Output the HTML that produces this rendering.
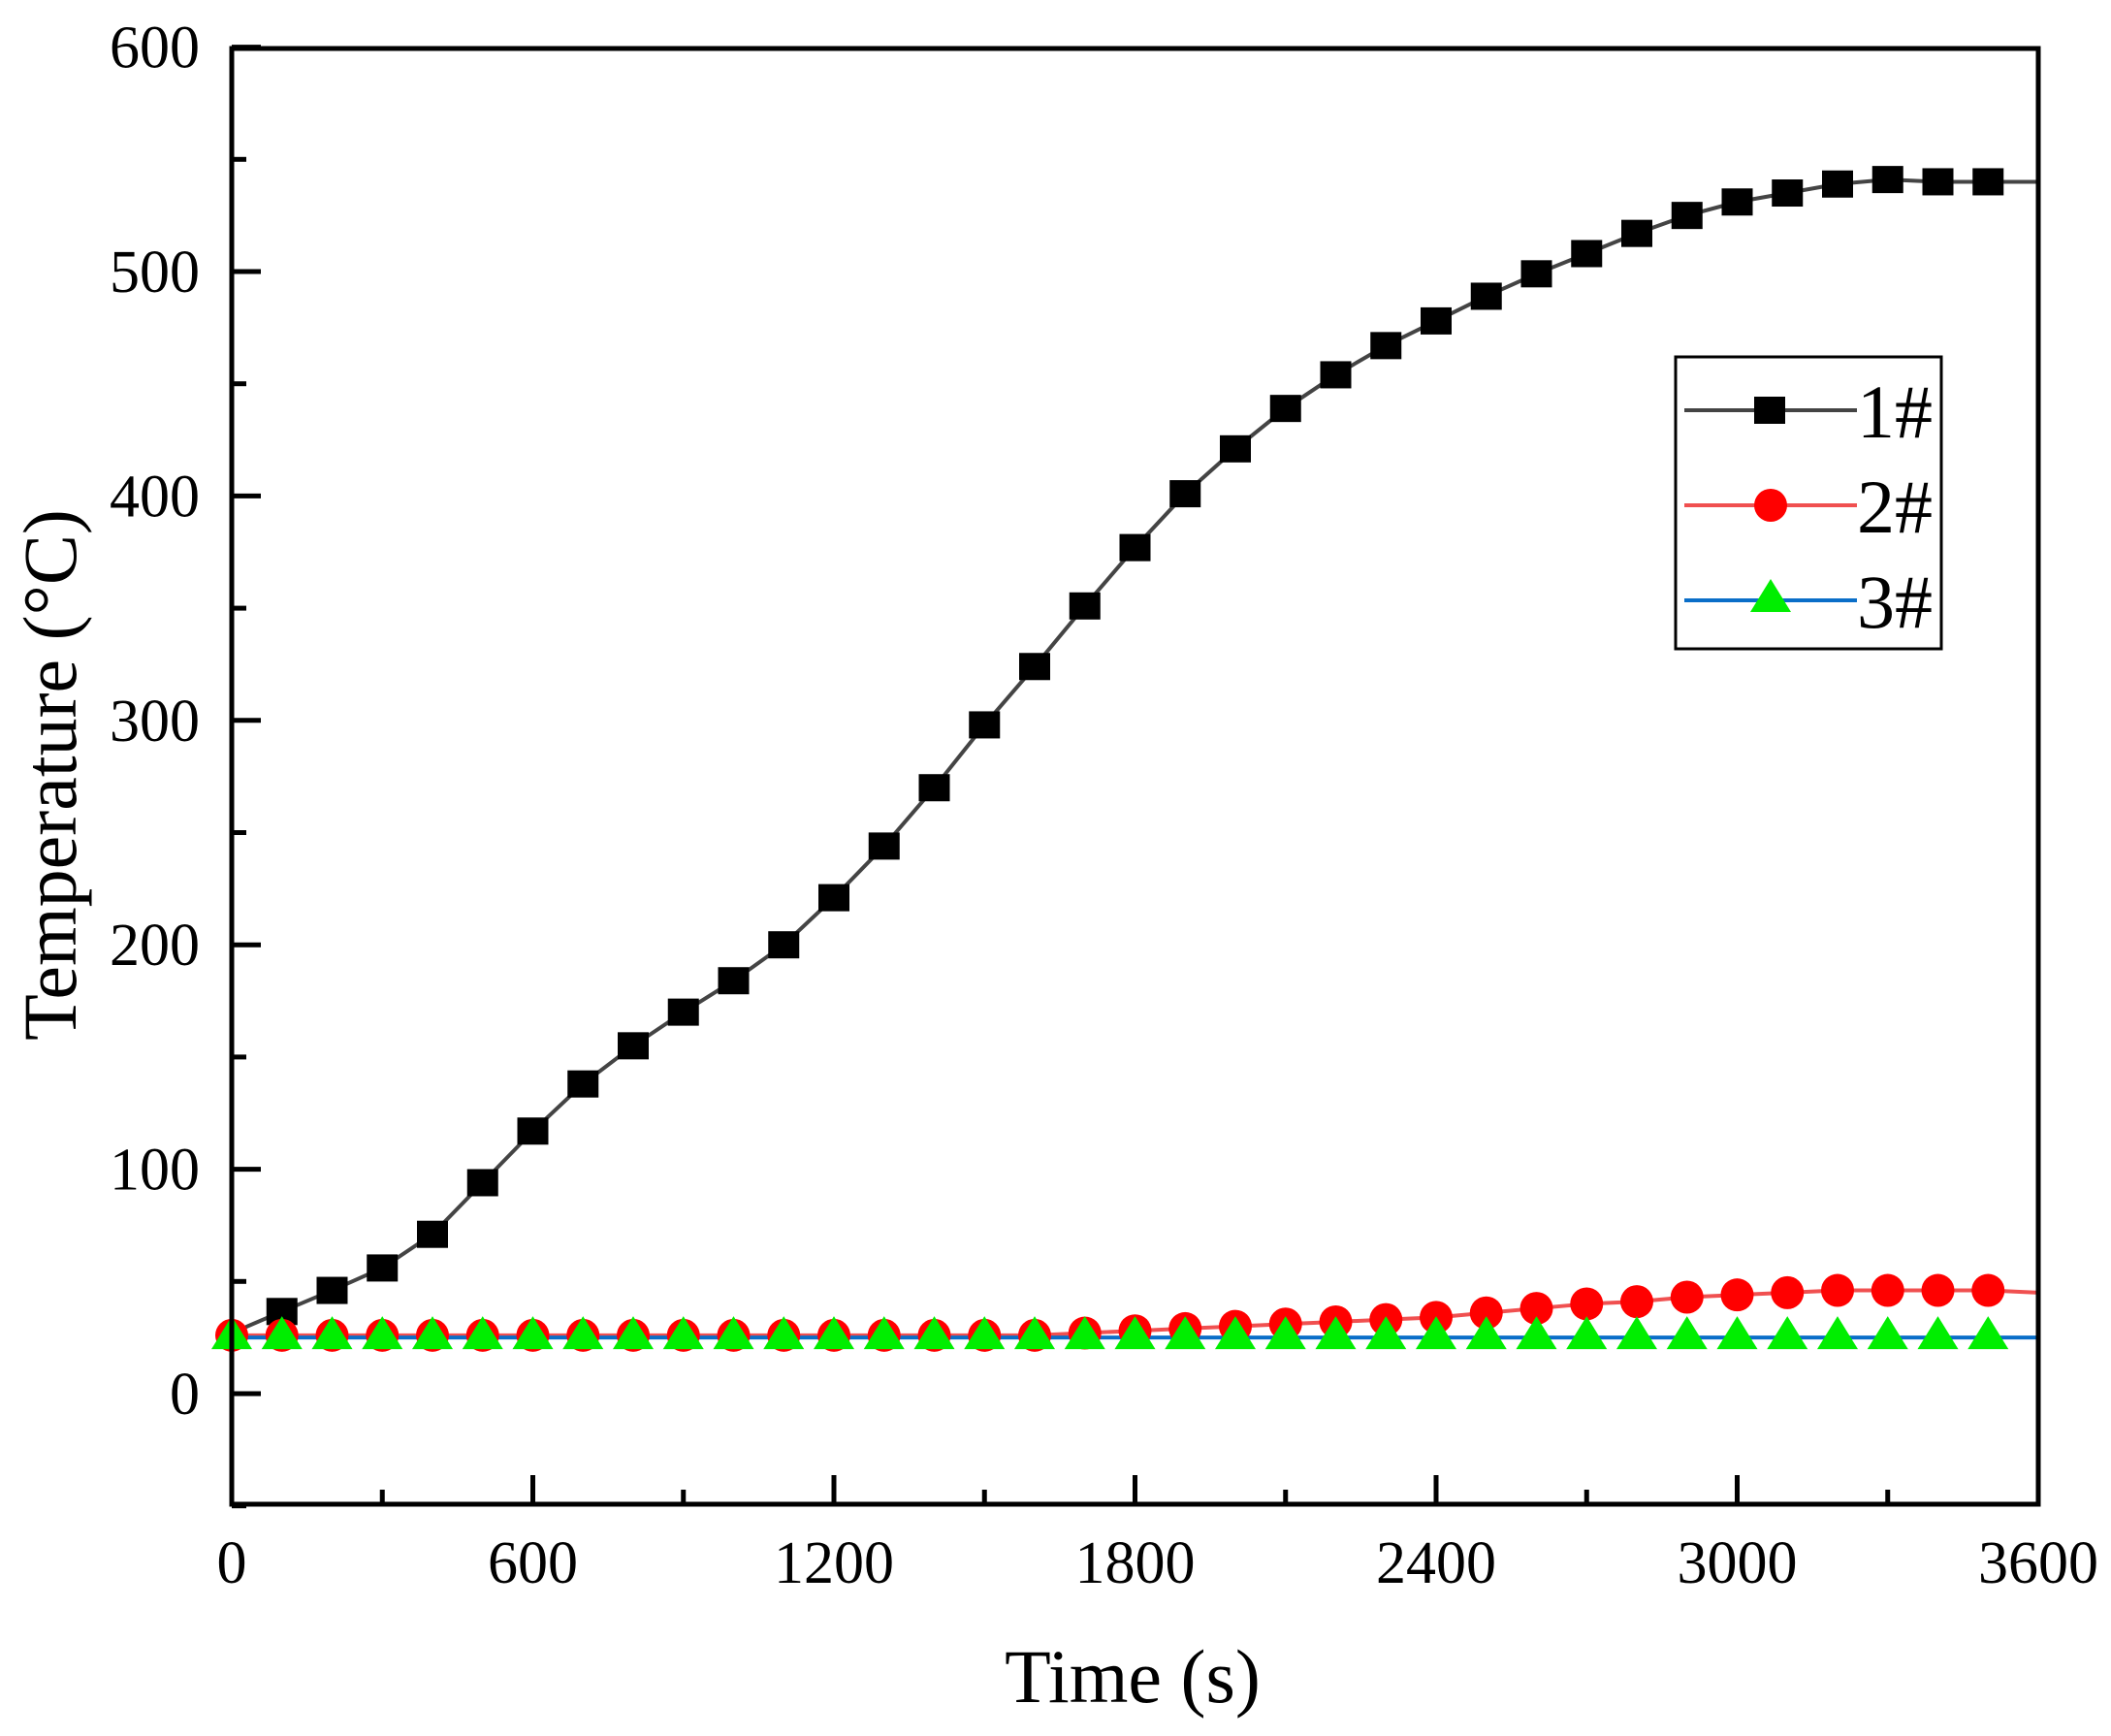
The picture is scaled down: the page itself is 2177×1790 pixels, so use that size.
<!DOCTYPE html>
<html><head><meta charset="utf-8"><style>
html,body{margin:0;padding:0;background:#fff}
svg text{font-family:"Liberation Serif",serif;fill:#000}
</style></head><body>
<svg id="chart" width="2177" height="1785" viewBox="0 0 2177 1785" xmlns="http://www.w3.org/2000/svg">
<g id="plot"></g>
<rect x="239" y="50" width="1863" height="1501" fill="none" stroke="#000" stroke-width="5"/>
<g id="axes"></g>
<text x="1168" y="1755" font-size="78" text-anchor="middle">Time (s)</text>
<text transform="translate(78,799) rotate(-90)" font-size="78" text-anchor="middle">Temperature (°C)</text>
<g id="legend">
<rect x="1728" y="368" width="274" height="301" fill="#fff" stroke="#000" stroke-width="3"/>
</g>
</svg>
<script>
const times=[0,100,200,300,400,500,600,700,800,900,1000,1100,1200,1300,1400,1500,1600,1700,1800,1900,2000,2100,2200,2300,2400,2500,2600,2700,2800,2900,3000,3100,3200,3300,3400,3500,3600];
const s1=[27,36.6,46,56,71,94,117,138,155,170,184,200,221,244,270,298,324,351,377,401,421,439,454,467,478,489,499,508,517,525,531,535,539,541,540,540,540];
const s2=[26,26,26,26,26,26,26,26,26,26,26,26,26,26,26,26,26,27,28,29,30,31,32,33,34,36,38,40,41,43,44,45,46,46,46,46,45];
const s3=[25,25,25,25,25,25,25,25,25,25,25,25,25,25,25,25,25,25,25,25,25,25,25,25,25,25,25,25,25,25,25,25,25,25,25,25,25];
const xTicks=[0,600,1200,1800,2400,3000,3600];
const yTicks=[0,100,200,300,400,500,600];
const names=["1#","2#","3#"];
const NS="http://www.w3.org/2000/svg";
const X=v=>239+v*(1863/3600);
const Y=v=>1437-v*2.314;
function mk(tag,attrs,parent){const e=document.createElementNS(NS,tag);for(const k in attrs)e.setAttribute(k,attrs[k]);parent.appendChild(e);return e;}
const axes=document.getElementById('axes');
for(let v=0;v<=3600;v+=300){const major=v%600===0;const t=mk('line',{x1:X(v),x2:X(v),y1:1551,y2:1551-(major?30:15),stroke:'#000','stroke-width':5},axes);

}
for(let v=-50;v<=600;v+=50){const major=v%100===0;const t=mk('line',{x1:239,x2:239+(major?30:15),y1:Y(v),y2:Y(v),stroke:'#000','stroke-width':5},axes);

}
xTicks.forEach(v=>{const t=mk('text',{x:X(v),y:1632,'font-size':62,'text-anchor':'middle'},axes);t.textContent=v;

});
yTicks.forEach(v=>{const t=mk('text',{x:206,y:Y(v)+21,'font-size':62,'text-anchor':'end'},axes);t.textContent=v;

});
const plot=document.getElementById('plot');
function line(data,color,name){const pts=times.map((t,i)=>X(t)+','+Y(data[i])).join(' ');const p=mk('polyline',{points:pts,fill:'none',stroke:color,'stroke-width':4},plot);

}
function square(cx,cy,parent){const r=mk('rect',{x:cx-16,y:cy-14,width:32,height:28,fill:'#000'},parent);

}
function circle(cx,cy,parent){const c=mk('circle',{cx:cx,cy:cy,r:17,fill:'#f00'},parent);

}
function tri(cx,cy,parent){const p=mk('polygon',{points:`${cx-21},${cy+12} ${cx+21},${cy+12} ${cx},${cy-22}`,fill:'#00ee00'},parent);

}
line(s1,'#444','series-1-line');
line(s2,'#f05050','series-2-line');
line(s3,'#0a6ec8','series-3-line');
times.forEach((t,i)=>{if(t>=100&&t<=3500)square(X(t),Y(s1[i]),plot);});
times.forEach((t,i)=>{if(t<=3500)circle(X(t),Y(s2[i]),plot);});
times.forEach((t,i)=>{if(t<=3500)tri(X(t),Y(s3[i]),plot);});
const leg=document.getElementById('legend');
const cols=['#444','#f05050','#0a6ec8'];const ys=[423,521,619];
ys.forEach((y,i)=>{const l=mk('line',{x1:1737,x2:1915,y1:y,y2:y,stroke:cols[i],'stroke-width':4},leg);


if(i===0)square(1825,y,leg);else if(i===1)circle(1826,y,leg);else tri(1826,y,leg);
const t=mk('text',{x:1915,y:y+28,'font-size':78},leg);t.textContent=names[i];

});
</script>
</body></html>
